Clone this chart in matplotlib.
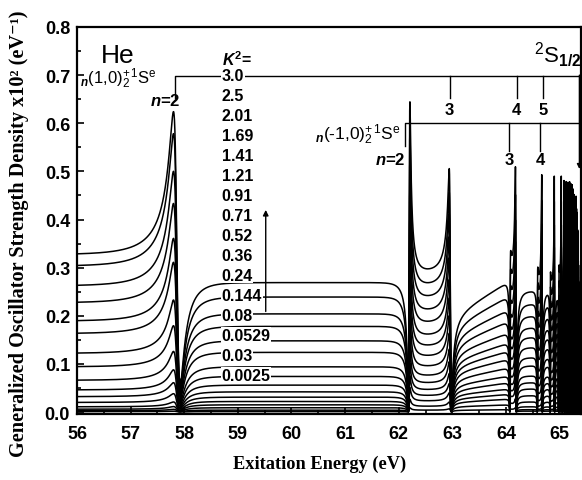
import numpy as np
import matplotlib.pyplot as plt
from matplotlib.ticker import MultipleLocator, FormatStrFormatter

plt.rcParams['font.family'] = ['Liberation Sans', 'DejaVu Sans']
plt.rcParams['mathtext.fontset'] = 'custom'
plt.rcParams['mathtext.rm'] = 'Liberation Sans'
plt.rcParams['mathtext.it'] = 'Liberation Sans:italic:bold'
plt.rcParams['mathtext.bf'] = 'Liberation Sans:bold'

# K^2 values (a.u.), top curve first
k2_labels = ['3.0', '2.5', '2.01', '1.69', '1.41', '1.21', '0.91', '0.71',
             '0.52', '0.36', '0.24', '0.144', '0.08', '0.0529', '0.03', '0.0025']

# background GOSD (x10^2 eV^-1) of every curve in each energy window
level_a = [0.327, 0.303, 0.262, 0.227, 0.189, 0.163, 0.122, 0.094,
           0.066, 0.046, 0.032, 0.020, 0.011, 0.006, 0.003, 0.001]   # 56-57.9 eV
level_b = [0.269, 0.239, 0.204, 0.178, 0.148, 0.124, 0.094, 0.074,
           0.056, 0.042, 0.031, 0.022, 0.015, 0.009, 0.004, 0.001]   # 58-62.2 eV
level_v = [0.290, 0.262, 0.236, 0.209, 0.184, 0.158, 0.136, 0.115,
           0.094, 0.075, 0.060, 0.046, 0.034, 0.023, 0.012, 0.004]   # 62.2-63 eV
level_c = [0.272, 0.241, 0.213, 0.189, 0.165, 0.144, 0.127, 0.110,
           0.092, 0.075, 0.061, 0.048, 0.037, 0.027, 0.015, 0.005]   # 63-64.2 eV
level_d = [0.251, 0.224, 0.199, 0.175, 0.155, 0.134, 0.113, 0.096,
           0.075, 0.061, 0.048, 0.034, 0.021, 0.011, 0.005, 0.002]   # 64.2-65.4 eV

# n(1,0)2+ 1Se resonances: position, width (eV), Fano q, tail range below/above (eV)
s1_pos = [57.863, 62.963, 64.185, 64.672, 64.905, 65.035, 65.085, 65.125,
          65.160, 65.190, 65.215, 65.237, 65.256, 65.272, 65.286, 65.298,
          65.309, 65.318, 65.326, 65.333, 65.339, 65.345, 65.350, 65.355,
          65.359, 65.363, 65.367, 65.371, 65.375, 65.379]
s1_width = [0.14, 0.04, 0.016, 0.009, 0.007, 0.006, 0.005, 0.0048,
            0.0045, 0.0042, 0.004, 0.0038, 0.0036, 0.0034, 0.0032, 0.003,
            0.0029, 0.0028, 0.0027, 0.0026, 0.0025, 0.0024, 0.0023, 0.0022,
            0.0021, 0.002, 0.002, 0.002, 0.002, 0.002]
s1_q = [-1.0, -0.9, -0.95] + [-1.0] * 27
s1_tail_lo = [0.7, 0.25, 0.12, 0.08, 0.06, 0.05, 0.04, 0.035,
              0.03, 0.028, 0.025, 0.022, 0.02, 0.018, 0.016, 0.015,
              0.014, 0.013, 0.012, 0.012, 0.011, 0.011, 0.01, 0.01,
              0.01, 0.009, 0.009, 0.009, 0.008, 0.008]
s1_tail_hi = [0.3] + s1_tail_lo[1:]

# n(-1,0)2+ 1Se resonances
s2_pos = [62.197, 64.075, 64.585, 64.825, 64.985, 65.060, 65.105, 65.143,
          65.176, 65.203, 65.227, 65.247, 65.264, 65.279, 65.292, 65.304,
          65.314, 65.322, 65.330, 65.336, 65.342, 65.348, 65.353, 65.357,
          65.361, 65.365, 65.369, 65.373, 65.377]
s2_width = [0.03, 0.012, 0.008, 0.006, 0.005, 0.0045, 0.004, 0.0038,
            0.0036, 0.0034, 0.0032, 0.003, 0.0029, 0.0028, 0.0027, 0.0026,
            0.0025, 0.0024, 0.0023, 0.0022, 0.0021, 0.002, 0.002, 0.002,
            0.002, 0.002, 0.002, 0.002, 0.002]
s2_q = [1.15, 0.42, 0.42, 0.4, 0.45] + [0.4] * 24
s2_tail_lo = [0.15, 0.1, 0.06, 0.045, 0.035, 0.03, 0.025, 0.02,
              0.018, 0.016, 0.014, 0.012, 0.011, 0.01, 0.01, 0.009,
              0.009, 0.008, 0.008, 0.008, 0.007, 0.007, 0.007, 0.006,
              0.006, 0.006, 0.006, 0.006, 0.006]
s2_tail_hi = s2_tail_lo

res_pos = s1_pos + s2_pos
res_width = s1_width + s2_width
res_q = s1_q + s2_q
res_tail_lo = s1_tail_lo + s2_tail_lo
res_tail_hi = s1_tail_hi + s2_tail_hi


def fano(E, er, w, q, tail_lo, tail_hi):
    eps = 2 * (E - er) / w
    f = (q + eps) ** 2 / (1 + eps ** 2)
    tail = np.where(E < er, tail_lo, tail_hi)
    return 1 + (f - 1) * np.exp(-np.abs(E - er) / tail)


E = np.linspace(56.0, 65.4, 90001)
profile = np.ones_like(E)
for er, w, q, tl, th in zip(res_pos, res_width, res_q, res_tail_lo, res_tail_hi):
    profile *= fano(E, er, w, q, tl, th)

# window edges sit on the Fano zeros
zero = lambda i: res_pos[i] - res_q[i] * res_width[i] / 2
edge_ab = zero(0)                       # (1,0) n=2
edge_bv = zero(len(s1_pos))             # (-1,0) n=2
edge_vc = zero(1)                       # (1,0) n=3
edge_cd = zero(2)                       # (1,0) n=4
tilt = 1 - 0.25 * np.clip(s2_pos[1] - E, 0, None)

fig = plt.figure(figsize=(5.82, 4.81), dpi=100)
ax = fig.add_axes([77 / 582, 1 - 415 / 481, 504 / 582, 387 / 481])

for k in range(len(k2_labels)):
    base = np.select([E < edge_ab, E < edge_bv, E < edge_vc, E < edge_cd],
                     [level_a[k], level_b[k], level_v[k], level_c[k] * tilt],
                     level_d[k])
    ax.plot(E, base * profile, color='black', lw=1.1, zorder=2)

ax.set_xlim(56, 65.4)
ax.set_ylim(-0.004, 0.8)
ax.xaxis.set_major_locator(MultipleLocator(1))
ax.xaxis.set_minor_locator(MultipleLocator(0.5))
ax.yaxis.set_major_locator(MultipleLocator(0.1))
ax.yaxis.set_minor_locator(MultipleLocator(0.05))
ax.yaxis.set_major_formatter(FormatStrFormatter('%.1f'))
ax.tick_params(which='both', direction='in', top=False, right=False, width=1.2)
ax.tick_params(which='major', length=5)
ax.tick_params(which='minor', length=3)
ax.tick_params(axis='x', pad=8)
ax.tick_params(axis='y', pad=5)
for lab in ax.get_xticklabels() + ax.get_yticklabels():
    lab.set_fontsize(13)
    lab.set_fontweight('bold')
for sp in ax.spines.values():
    sp.set_linewidth(1.6)

fig.text(19 / 582, 1 - 234 / 481,
         'Generalized Oscillator Strength Density x10\u00b2 (eV\u207b\u00b9)',
         rotation=90, ha='center', va='center', fontsize=14.6, fontweight='bold',
         family=['Liberation Serif', 'DejaVu Serif'])
fig.text(320 / 582, 1 - 464 / 481, 'Exitation Energy (eV)',
         ha='center', va='center', fontsize=13.2, fontweight='bold',
         family=['Liberation Serif', 'DejaVu Serif'])

# annotations
ax.text(56.76, 0.742, 'He', fontsize=19, ha='center', va='center')
ax.text(56.06, 0.694, r'$_n$(1,0)$_2^{+\,1}$S$^{\mathrm{e}}$', fontsize=12,
        ha='left', va='center')
lk = dict(color='black', lw=1.0, zorder=3)
ax.plot([57.83, 57.83, 65.37], [0.653, 0.699, 0.699], **lk)
for xs, lab in zip([62.95, 64.2, 64.7], ['3', '4', '5']):
    ax.plot([xs, xs], [0.699, 0.653], **lk)
    ax.text(xs, 0.628, lab, fontsize=12, fontweight='bold', ha='center', va='center')
ax.text(57.93, 0.648, r'$n$=2', fontsize=12, fontweight='bold', ha='right', va='center')
ax.annotate('', xy=(65.37, 0.505), xytext=(65.37, 0.70),
            arrowprops=dict(arrowstyle='-|>', color='black', lw=1.0,
                            mutation_scale=7, shrinkA=0, shrinkB=0))

ax.text(62.03, 0.579, r'$_n$(-1,0)$_2^{+\,1}$S$^{\mathrm{e}}$', fontsize=12.5,
        ha='right', va='center')
ax.plot([62.12, 62.12, 65.37], [0.552, 0.601, 0.601], **lk)
for xs, lab in zip([64.06, 64.64], ['3', '4']):
    ax.plot([xs, xs], [0.601, 0.542], **lk)
    ax.text(xs, 0.525, lab, fontsize=12, fontweight='bold', ha='center', va='center')
ax.text(62.12, 0.525, r'$n$=2', fontsize=12, fontweight='bold', ha='right', va='center')

fig.text(0.999, 1 - 55 / 481, r'$^2$S$_{\mathbf{1/2}}$', fontsize=16, ha='right', va='center')

ax.text(58.70, 0.734, r'$K^{\mathbf{2}}$=', fontsize=11.5, fontweight='bold',
        ha='left', va='center')
y0 = 0.8 - (77 - 28) / 483.75
dy = 20.07 / 483.75
for i, lab in enumerate(k2_labels):
    ax.text(58.70, y0 - i * dy, lab, fontsize=11.5, fontweight='bold',
            ha='left', va='center', zorder=5,
            bbox=dict(facecolor='white', edgecolor='none', pad=0.4))
ax.annotate('', xy=(59.52, 0.420), xytext=(59.52, 0.209),
            arrowprops=dict(arrowstyle='-|>', color='black', lw=1.0,
                            mutation_scale=8, shrinkA=0, shrinkB=0))

fig.savefig('out.png', dpi=100, facecolor='white')
